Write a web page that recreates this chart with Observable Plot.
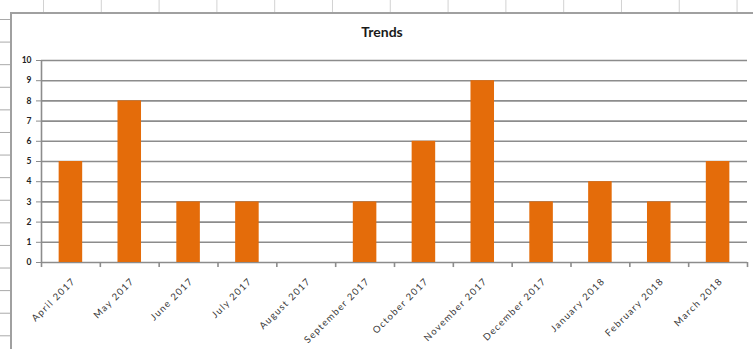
<!DOCTYPE html>
<html>
<head>
<meta charset="utf-8">
<script src="https://cdn.jsdelivr.net/npm/d3@7"></script>
<script src="https://cdn.jsdelivr.net/npm/@observablehq/plot@0.6"></script>
<style>
  html, body { margin: 0; padding: 0; background: #fff; }
  #sheet {
    position: relative;
    width: 753px;
    height: 349px;
    overflow: hidden;
    background-color: #fff;
    background-image:
      linear-gradient(to right, #d2d2d2 1px, transparent 1px),
      linear-gradient(to bottom, #a8a8a8 1px, transparent 1px);
    background-size: 57.8px 100%, 100% 22.6px;
    background-position: 43px 0, 0 19px;
  }
  #chart {
    position: absolute;
    left: 10px;
    top: 12px;
    width: 760px;
    height: 360px;
    background: #fff;
    border-left: 2px solid #a0a0a0;
    border-top: 2px solid #a0a0a0;
  }
  #title {
    height: 36px;
    line-height: 36px;
    width: 740px;
    text-align: center;
    font-family: Lato, "Open Sans", sans-serif;
    font-weight: bold;
    font-size: 14px;
    color: #1a1a1a;
  }
</style>
</head>
<body>
<div id="sheet">
  <div id="chart">
    <div id="title">Trends</div>
    <div id="plot"></div>
  </div>
</div>
<script>
// Monthly counts, April 2017 – March 2018
const months = [
  "April 2017", "May 2017", "June 2017", "July 2017", "August 2017",
  "September 2017", "October 2017", "November 2017", "December 2017",
  "January 2018", "February 2018", "March 2018"
];
const counts = [5, 8, 3, 3, 0, 3, 6, 9, 3, 4, 3, 5];
const yTicks = [0, 1, 2, 3, 4, 5, 6, 7, 8, 9, 10];

const rows = months.map((m, i) => ({month: m, count: counts[i]}));

const W = 741, H = 299;
const mL = 29, mR = 6, mT = 10, mB = 87;
const step = (W - mL - mR) / months.length;
const gridColor = "#8c8c8c";

const chart = Plot.plot({
  width: W,
  height: H,
  marginLeft: mL,
  marginRight: mR,
  marginTop: mT,
  marginBottom: mB,
  style: {fontFamily: "Lato, 'Open Sans', sans-serif", color: "#333", background: "transparent"},
  x: {type: "band", domain: months, paddingInner: 0.6, paddingOuter: 0.3, round: false, label: null},
  y: {domain: [0, 10], label: null},
  marks: [
    // horizontal gridlines
    Plot.ruleY(yTicks, {stroke: gridColor, strokeWidth: 1.6}),
    // vertical axis line at the left edge of the first category
    Plot.ruleX([months[0]], {y1: 0, y2: 10, dx: -step / 2, stroke: gridColor, strokeWidth: 1.6}),
    // category boundary ticks below the baseline
    Plot.ruleX(months, {y1: 0, y2: -0.25, dx: -step / 2, stroke: gridColor, strokeWidth: 1.6}),
    Plot.ruleX([months[months.length - 1]], {y1: 0, y2: -0.25, dx: step / 2, stroke: gridColor, strokeWidth: 1.6}),
    Plot.barY(rows, {x: "month", y: "count", fill: "#E46C0A"}),
    Plot.axisY({
      ticks: yTicks, tickSize: 5, tickPadding: 5, tickFormat: d3.format("d"),
      stroke: gridColor, fontSize: 8.5, fontWeight: "bold", fill: "#222"
    }),
    Plot.axisX({
      tickSize: 0, tickRotate: -45, tickPadding: 17, dx: 3,
      fontSize: 9.5, fill: "#3a3a3a", label: null
    })
  ]
});
chart.querySelectorAll("g[aria-label='x-axis tick label'] text")
  .forEach(t => t.style.letterSpacing = "1.3px");
document.getElementById("plot").appendChild(chart);
</script>
</body>
</html>
